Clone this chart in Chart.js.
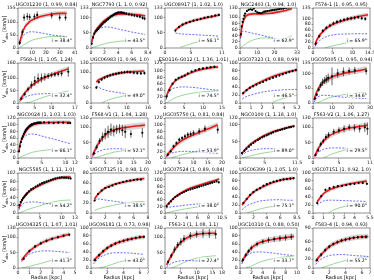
<!DOCTYPE html>
<html><head><meta charset="utf-8">
<script src="https://cdn.jsdelivr.net/npm/chart.js@4"></script>
<style>
body{margin:0;background:#fff;width:374px;height:280px;overflow:hidden;position:relative;font-family:"DejaVu Sans",sans-serif}
canvas{position:absolute}
.yl{position:absolute;font-size:5px;white-space:nowrap;transform-origin:0 0;transform:rotate(-90deg)}
.xl{position:absolute;font-size:5px;white-space:nowrap;transform:translateX(-50%)}
</style></head><body>
<script>
// ---------- DATA ----------
const P1_title="UGC01230 (1, 0.99, 0.84)", P1_incl="i = 38.4°", P1_xAxis=[0,41,10], P1_yAxis=[0,155,50];
const P1_r=[1.2,3.1,4.4,6.7,8.4,11.8,13.8,24.2,30.0,34.2];
const P1_v=[20,62,118,122,120,122,128,126,118,118];
const P1_e=[8,12,14,14,12,12,14,12,12,12];
const P1_mr=[1,3,5,8,10,15,20,25,30,35];
const P1_fit=[18,55,82,100,108,120,127,132,134,134];
const P1_bar=[12,40,55,62,63,60,55,50,47,44];
const P1_dm=[2,8,15,25,30,37,42,45,44,42];

const P2_title="NGC7793 (1, 1.0, 0.92)", P2_incl="i = 43.5°", P2_xAxis=[0,8.4,2], P2_yAxis=[0,133,50];
const P2_r=[0.1,0.3,0.5,0.7,0.9,1.1,1.3,1.5,1.7,1.9,2.1,2.3,2.5,2.7,2.9,3.1,3.3,3.5,3.7,3.9,4.1,4.3,4.5,4.7,4.9,5.2,5.6,6.0,6.4,6.8,7.2,7.6,7.9];
const P2_v=[15,35,48,55,60,65,70,75,80,85,88,92,96,100,104,107,110,113,115,117,118,118,118,117,116,114,112,110,108,106,104,100,98];
const P2_e=[5,5,5,5,5,5,5,5,5,5,5,5,5,5,5,5,5,5,5,5,5,5,5,5,5,5,5,5,5,5,5,6,6];
const P2_mr=[0.1,0.5,1,2,3,4,5,6,7,8];
const P2_fit=[20,50,68,92,106,112,113,112,110,107];
const P2_bar=[10,45,60,70,68,63,58,53,49,45];
const P2_dm=[0,3,7,14,19,22,24,25,26,27];

const P3_title="UGC08917 (1, 1.02, 1.0)", P3_incl="i = 56.1°", P3_xAxis=[0,11,5], P3_yAxis=[0,133,50];
const P3_r=[2,2.7,3.4,4.1,4.8,5.5,6.2,6.9,7.6,8.3,9,9.7,10.4];
const P3_v=[58,70,78,83,87,91,94,97,100,103,105,108,110];
const P3_e=[4,4,4,4,4,4,4,4,4,4,4,4,4];
const P3_mr=[2,3,4,5,6,7,8,9,10,10.5];
const P3_fit=[60,73,82,88,93,97,101,104,108,110];
const P3_bar=[50,47,46,45,44,43,42,41,40,40];
const P3_dm=[null,3,8,14,19,23,27,30,33,35];

const P4_title="NGC2403 (1, 0.94, 1.0)", P4_incl="i = 62.9°", P4_xAxis=[0,33,10], P4_yAxis=[0,130,20];
const P4_r=[0.5,1,1.5,2,2.5,3,4,5,6,7,8,9,10,11,12,13,14,15,16,17,18,19,20,21,22,23,24,25,26,27,28,29,30];
const P4_v=[45,70,85,95,105,112,120,124,126,124,128,120,116,114,113,115,118,119,120,121,122,123,124,125,126,127,128,128,130,131,132,133,134];
const P4_e=[3,3,3,3,3,3,3,3,3,3,3,3,3,3,3,3,3,3,3,3,3,3,3,3,3,3,3,3,3,3,3,3,3];
const P4_mr=[0.3,1,2,3,4,6,8,10,12,15,18,20,25,30];
const P4_fit=[35,65,88,100,106,110,111,111,111,112,113,115,120,128];
const P4_bar=[30,50,55,54,52,50,47,45,42,38,34,31,26,22];
const P4_dm=[0,3,8,12,16,22,27,30,32,33,32,31,29,40];

const P5_title="F574-1 (1, 0.95, 0.95)", P5_incl="i = 65.9°", P5_xAxis=[0,14.5,5], P5_yAxis=[0,135,20];
const P5_r=[0.7,1.6,2.5,3.4,4.3,5.2,6.1,7,7.9,8.8,9.7,10.6,11.5,12.4,13.3];
const P5_v=[15,40,58,68,76,83,88,92,95,98,100,102,104,100,98];
const P5_e=[6,6,6,6,6,6,6,6,6,6,6,6,6,6,6];
const P5_mr=[0.5,1,2,3,4,6,8,10,12,14];
const P5_fit=[10,28,48,62,72,85,94,101,107,112];
const P5_bar=[5,15,28,36,41,46,47,48,48,48];
const P5_dm=[null,null,null,0,4,10,16,21,25,28];

const P6_title="F568-1 (1, 1.05, 1.24)", P6_incl="i = 32.4°", P6_xAxis=[0,17,5], P6_yAxis=[0,160,50];
const P6_r=[1,2,3,4,5,6,7,8,9,10,11,12,13,15];
const P6_v=[18,35,55,72,88,98,100,104,108,112,114,116,118,125];
const P6_e=[6,8,10,15,20,20,18,15,12,10,10,10,12,20];
const P6_mr=[0.5,1,2,4,6,8,10,12,14,15];
const P6_fit=[10,20,40,68,88,102,113,123,132,136];
const P6_bar=[5,12,22,32,36,37,38,38,37,37];
const P6_dm=[null,null,0,5,15,25,33,40,45,48];

const P7_title="UGC06983 (1, 0.96, 1.0)", P7_incl="i = 49.0°", P7_xAxis=[0,16,5], P7_yAxis=[0,130,50];
const P7_r=[1.5,2.2,3,3.8,4.6,5.4,6.2,7,7.8,8.6,9.4,10.2,11,12,13,14,15];
const P7_v=[50,68,76,82,86,90,93,95,97,99,100,101,100,98,97,96,97];
const P7_e=[5,5,5,5,5,5,5,5,5,5,5,5,5,5,5,5,5];
const P7_mr=[1.5,2,3,4,5,6,8,10,12,15];
const P7_fit=[68,74,80,85,89,92,97,100,102,104];
const P7_bar=[55,52,46,42,39,37,33,30,28,27];
const P7_dm=[null,null,0,5,10,14,20,25,28,31];

const P8_title="ESO116-G012 (1, 1.36, 1.01)", P8_incl="i = 74.5°", P8_xAxis=[0,15,5], P8_yAxis=[0,125,20];
const P8_r=[0.4,1.2,2,2.8,3.6,4.4,5.2,6,7,8,9,10,11,12,13];
const P8_v=[20,40,60,72,78,82,86,92,98,102,106,108,110,112,113];
const P8_e=[4,4,4,4,4,4,4,4,4,4,4,4,4,4,4];
const P8_mr=[0.3,1,2,3,4,6,8,10,12,14];
const P8_fit=[18,40,60,72,79,90,100,106,110,113];
const P8_bar=[10,35,45,48,50,50,48,45,42,40];
const P8_dm=[0,5,12,18,22,28,32,35,37,38];

const P9_title="UGC07323 (1, 0.88, 0.99)", P9_incl="i = 46.5°", P9_xAxis=[0,5.2,1], P9_yAxis=[0,100,20];
const P9_r=[0.3,0.6,0.9,1.2,1.5,1.8,2.1,2.4,2.7,3,3.3,3.6,3.9,4.2,4.5,4.8,5.1];
const P9_v=[25,32,38,42,46,50,53,57,60,63,66,69,72,75,78,80,82];
const P9_e=[3,3,3,3,3,3,3,3,3,3,3,3,3,3,3,3,3];
const P9_mr=[0.2,0.5,1,2,3,4,5,5.2];
const P9_fit=[22,30,40,54,66,75,82,84];
const P9_bar=[10,15,20,27,31,33,34,34];
const P9_dm=[null,null,null,null,2,12,18,20];

const P10_title="UGC05005 (1, 0.95, 0.94)", P10_incl="i = 34.6°", P10_xAxis=[0,30,10], P10_yAxis=[0,135,50];
const P10_r=[1,2,3,4,5,6,7,8,10,13,16,19,22,28];
const P10_v=[15,28,45,60,70,76,80,85,90,100,105,108,110,108];
const P10_e=[5,6,8,10,12,12,14,15,30,15,15,12,12,12];
const P10_mr=[0.5,1,2,4,6,10,15,20,25,28];
const P10_fit=[10,20,38,60,72,88,98,105,110,115];
const P10_bar=[3,8,18,25,26,24,20,18,16,15];
const P10_dm=[null,null,0,5,12,20,27,31,34,35];

const P11_title="NGC0024 (1, 1.03, 1.03)", P11_incl="i = 66.1°", P11_xAxis=[0,12,5], P11_yAxis=[0,120,20];
const P11_r=[0.2,0.4,0.6,0.8,1,1.2,1.4,1.6,1.8,2,2.2,2.4,2.6,2.8,3,3.3,3.6,3.9,4.2,4.5,4.8,5.5,6.5,7.5,8.5,9.5,10.5,11];
const P11_v=[20,35,48,58,65,72,78,83,87,90,93,96,98,100,101,103,104,105,106,106,106,107,106,105,106,106,105,105];
const P11_e=[4,4,4,4,4,4,4,4,4,4,4,4,4,4,4,4,4,4,4,4,4,4,4,4,4,4,4,4];
const P11_mr=[0.2,0.5,1,2,3,4,5,6,8,10,11];
const P11_fit=[20,45,62,86,98,103,105,106,107,107,107];
const P11_bar=[20,45,58,70,72,70,66,62,55,47,43];
const P11_dm=[0,3,6,12,17,20,22,24,26,26,25];

const P12_title="F568-V1 (1, 1.04, 1.28)", P12_incl="i = 52.1°", P12_xAxis=[0,20,5], P12_yAxis=[0,130,50];
const P12_r=[1,2,3,4,5,6,7,8,9,10,11,12,14,18];
const P12_v=[15,35,55,68,78,85,92,88,93,95,90,85,78,82];
const P12_e=[5,8,10,15,18,20,20,18,15,15,18,20,12,15];
const P12_mr=[0.5,1,2,4,6,8,10,12,15,18,19];
const P12_fit=[8,18,38,65,82,91,96,99,103,106,107];
const P12_bar=[3,10,18,26,29,30,30,29,28,27,26];
const P12_dm=[null,0,2,8,14,19,22,25,28,30,30];

const P13_title="UGC05750 (1, 0.81, 0.84)", P13_incl="i = 53.9°", P13_xAxis=[0,20,5], P13_yAxis=[0,120,20];
const P13_r=[1,2,3,4,5,6,7,8,9,10,12,14,18.5];
const P13_v=[10,20,35,45,55,60,65,70,72,75,80,88,85];
const P13_e=[3,4,5,5,6,6,7,8,8,8,10,10,12];
const P13_mr=[0.5,1,2,4,6,8,10,12,15,18.5];
const P13_fit=[5,12,22,40,53,62,70,77,87,100];
const P13_bar=[3,8,14,18,20,20,19,18,16,14];
const P13_dm=[null,null,0,5,10,14,18,21,25,30];

const P14_title="NGC0100 (1, 1.18, 1.0)", P14_incl="i = 89.0°", P14_xAxis=[0,11.5,5], P14_yAxis=[0,120,50];
const P14_r=[0.4,0.9,1.3,1.8,2.2,2.7,3.1,3.6,4,4.5,4.9,5.4,5.8,6.3,6.7,7.2,7.6,8.1,8.5,9,9.4,9.9,10.3,10.8];
const P14_v=[15,22,28,34,40,45,50,54,58,62,65,68,71,74,77,80,82,84,86,88,90,92,93,95];
const P14_e=[3,3,3,3,3,3,3,3,3,3,3,3,3,3,3,3,3,3,3,3,3,3,3,3];
const P14_mr=[0.3,1,2,4,6,8,10,11];
const P14_fit=[12,25,40,60,75,85,93,96];
const P14_bar=[8,15,22,27,28,27,25,24];
const P14_dm=[0,2,6,13,18,21,24,25];

const P15_title="F563-V2 (1, 1.06, 1.27)", P15_incl="i = 29.5°", P15_xAxis=[0,11,5], P15_yAxis=[0,130,50];
const P15_r=[0.5,1,1.5,2,2.5,3,4,5,6,7,8,9,10,10.5];
const P15_v=[10,25,45,55,68,75,85,90,95,100,98,95,100,95];
const P15_e=[4,6,8,8,10,10,10,10,12,10,12,12,15,20];
const P15_mr=[0.3,1,2,3,4,6,8,10,10.5];
const P15_fit=[5,30,55,70,80,93,100,105,107];
const P15_bar=[5,18,28,32,33,32,30,28,28];
const P15_dm=[null,null,0,8,15,25,30,32,33];

const P16_title="NGC5585 (1, 1.11, 1.0)", P16_incl="i = 54.2°", P16_xAxis=[0,13,5], P16_yAxis=[0,102,20];
const P16_r=[0.3,0.6,0.9,1.2,1.5,1.8,2.1,2.5,3,3.5,4,4.5,5,5.5,6,6.5,7,7.5,8,8.5,9,9.5,10,10.5,11,11.5,12];
const P16_v=[20,28,33,38,42,46,50,55,60,63,67,70,73,76,78,80,82,84,86,88,89,90,91,90,90,89,88];
const P16_e=[3,3,3,3,3,3,3,3,3,3,3,3,3,3,3,3,3,3,3,3,3,3,3,3,3,3,3];
const P16_mr=[0.2,1,2,4,6,8,10,12];
const P16_fit=[12,35,50,65,76,85,90,92];
const P16_bar=[8,22,27,28,25,22,18,16];
const P16_dm=[0,3,8,15,22,28,32,33];

const P17_title="UGC07125 (1, 0.98, 1.0)", P17_incl="i = 38.5°", P17_xAxis=[0,8,2], P17_yAxis=[0,80,20];
const P17_r=[0.5,1,1.5,2,2.5,3,3.5,4,4.5,5,5.5,6,6.5,7];
const P17_v=[25,38,45,50,52,55,58,60,62,64,65,66,67,67];
const P17_e=[2,2,2,2,2,2,2,2,2,2,2,2,2,2];
const P17_mr=[0.5,1,2,3,4,5,6,7,7.5];
const P17_fit=[28,38,50,56,60,63,66,68,69];
const P17_bar=[25,28,26,24,22,20,18,16,15];
const P17_dm=[5,8,12,15,18,20,22,23,23];

const P18_title="UGC07524 (1, 0.89, 0.84)", P18_incl="i = 38.0°", P18_xAxis=[0,10.5,2], P18_yAxis=[0,120,20];
const P18_r=[0.3,0.7,1.1,1.5,1.9,2.3,2.7,3.1,3.5,3.9,4.3,4.7,5.1,5.5,5.9,6.3,6.7,7.1,7.5,7.9,8.3,8.7,9.1,9.5,9.9];
const P18_v=[20,28,35,42,48,52,56,60,63,66,69,71,73,75,77,79,81,83,85,87,89,91,93,95,92];
const P18_e=[3,3,3,3,3,3,3,3,3,3,3,3,3,3,3,3,3,3,3,3,3,3,3,3,3];
const P18_mr=[0.2,1,2,4,6,8,10];
const P18_fit=[20,35,50,70,82,92,102];
const P18_bar=[15,18,20,24,27,29,30];
const P18_dm=[0,3,7,13,18,23,28];

const P19_title="UGC06399 (1, 1.05, 1.0)", P19_incl="i = 75.1°", P19_xAxis=[0,8.5,2], P19_yAxis=[0,100,20];
const P19_r=[0.5,1,1.5,2,2.5,3,3.5,4,4.5,5,5.5,6,6.5,7,7.5,8];
const P19_v=[25,35,45,52,58,62,68,72,75,78,80,82,84,85,86,87];
const P19_e=[3,3,3,3,3,3,3,3,3,3,3,3,3,3,3,3];
const P19_mr=[0.3,1,2,3,4,5,6,7,8];
const P19_fit=[20,35,52,62,70,77,82,85,87];
const P19_bar=[8,18,25,30,32,33,33,32,32];
const P19_dm=[null,0,5,10,14,17,20,21,22];

const P20_title="UGC07151 (1, 0.92, 1.0)", P20_incl="i = 90.0°", P20_xAxis=[0,5.5,1], P20_yAxis=[0,100,20];
const P20_r=[0.4,0.8,1.2,1.6,2,2.4,2.8,3.2,3.6,4,4.4,4.8,5.2];
const P20_v=[25,42,58,62,65,67,68,70,72,73,75,75,73];
const P20_e=[3,3,3,3,3,3,3,3,3,3,3,3,3];
const P20_mr=[0.4,1,1.5,2,3,4,5,5.2];
const P20_fit=[28,48,57,62,70,75,79,80];
const P20_bar=[20,30,32,32,31,30,29,28];
const P20_dm=[null,null,0,8,16,21,25,26];

const P21_title="UGC04325 (1, 1.07, 1.01)", P21_incl="i = 41.3°", P21_xAxis=[0,5,1], P21_yAxis=[0,130,50];
const P21_r=[0.5,1,1.5,2,2.5,3,3.5,4,4.5];
const P21_v=[30,55,70,80,88,95,100,105,108];
const P21_e=[5,5,5,5,5,5,5,5,5];
const P21_mr=[0.3,1,2,3,4,4.5];
const P21_fit=[25,55,80,95,105,110];
const P21_bar=[20,45,55,55,52,50];
const P21_dm=[0,5,15,25,32,35];

const P22_title="UGC06181 (1, 0.73, 0.98)", P22_incl="i = 43.0°", P22_xAxis=[0,7,2], P22_yAxis=[0,100,20];
const P22_r=[0.5,1,1.5,2,2.5,3,3.5,4,4.5,5,5.5,6,6.5];
const P22_v=[20,32,42,50,56,61,65,68,71,73,75,77,78];
const P22_e=[4,4,4,4,4,4,4,4,4,4,4,4,4];
const P22_mr=[0.3,1,2,3,4,5,6,6.5];
const P22_fit=[18,32,50,61,68,73,77,78];
const P22_bar=[10,25,35,38,38,37,35,34];
const P22_dm=[null,0,5,12,18,22,25,27];

const P23_title="F563-1 (1, 1.08, 1.1)", P23_incl="i = 27.4°", P23_xAxis=[0,18,5], P23_yAxis=[0,130,50];
const P23_r=[1,2,3,4,5,6,8,10,12,14,16];
const P23_v=[20,40,60,75,85,95,105,110,112,112,110];
const P23_e=[5,8,10,10,12,12,12,12,15,15,15];
const P23_mr=[0.5,1,2,4,6,8,10,12,14,16];
const P23_fit=[10,20,40,72,92,103,109,112,113,113];
const P23_bar=[3,8,15,22,24,24,23,22,21,20];
const P23_dm=[null,null,0,8,18,26,32,36,38,40];

const P24_title="UGC10310 (1, 0.88, 0.50)", P24_incl="i = 33.7°", P24_xAxis=[0,10,2], P24_yAxis=[0,100,20];
const P24_r=[0.5,1,1.5,2,3,4,5,6,7,8,9];
const P24_v=[20,32,42,50,60,66,70,72,74,76,78];
const P24_e=[5,5,5,6,6,6,7,7,8,8,8];
const P24_mr=[0.3,1,2,3,4,6,8,9.5];
const P24_fit=[15,32,50,60,66,72,76,79];
const P24_bar=[10,28,38,40,40,37,33,31];
const P24_dm=[null,0,5,12,17,24,28,30];

const P25_title="F583-4 (1, 0.94, 0.93)", P25_incl="i = 55.2°", P25_xAxis=[0,7,2], P25_yAxis=[0,90,20];
const P25_r=[0.5,1,1.5,2,2.5,3,3.5,4,4.5,5,5.5,6,6.5];
const P25_v=[18,30,40,48,54,58,62,64,66,68,69,70,70];
const P25_e=[4,4,4,4,4,4,4,4,4,4,4,4,4];
const P25_mr=[0.3,1,2,3,4,5,6,6.8];
const P25_fit=[15,30,48,58,64,68,70,71];
const P25_bar=[8,20,28,30,30,28,27,26];
const P25_dm=[null,0,6,12,17,21,24,25];

const BAND_HALF=[9,7,6,6,8, 10,6,6,5,10, 6,10,8,5,9, 5,4,5,5,5, 7,6,9,7,6];

// ---------- LAYOUT ----------
const COL_L=[18,90.5,164.5,239.5,312.5], PW=57;
const ROW_T=[8,63,118,173,228], PH=40;
const AXW=16, TOPH=7, AXH=8, PADR=6;

Chart.defaults.font.family="'DejaVu Sans', sans-serif";
Chart.defaults.font.size=4.6;
Chart.defaults.color="#111";

const panels=[];
for(let k=1;k<=25;k++){
  const g=n=>window.eval("P"+k+"_"+n);
  panels.push({title:g("title"),incl:g("incl"),xa:g("xAxis"),ya:g("yAxis"),r:g("r"),v:g("v"),e:g("e"),mr:g("mr"),fit:g("fit"),bar:g("bar"),dm:g("dm"),bw:BAND_HALF[k-1]});
}

const framePlugin={id:"frame",
  afterDraw(ch,args,o){
    const a=ch.chartArea,c=ch.ctx;
    c.save();c.strokeStyle="#444";c.lineWidth=0.6;c.strokeRect(a.left,a.top,a.right-a.left,a.bottom-a.top);
    c.fillStyle="#000";c.textAlign="center";c.textBaseline="bottom";
    c.font="4.8px 'DejaVu Sans'";
    c.fillText(o.title,(a.left+a.right)/2,a.top-1.3);
    c.textAlign="right";c.textBaseline="alphabetic";c.font="4.6px 'DejaVu Sans'";
    c.fillStyle="rgba(255,255,255,0.85)";
    const w=c.measureText(o.incl).width;
    c.fillRect(a.right-3-w-0.5,a.bottom-10.5,w+1,5.2);
    c.fillStyle="#000";
    c.fillText(o.incl,a.right-3,a.bottom-6.2);
    c.restore();
  }};

panels.forEach((p,i)=>{
  const col=i%5,row=Math.floor(i/5);
  const cw=AXW+PW+PADR,ch=TOPH+PH+AXH;
  const cv=document.createElement("canvas");
  cv.width=cw;cv.height=ch;
  cv.style.left=(COL_L[col]-AXW)+"px";cv.style.top=(ROW_T[row]-TOPH)+"px";
  cv.style.width=cw+"px";cv.style.height=ch+"px";
  document.body.appendChild(cv);
  const pts=p.r.map((x,j)=>({x,y:p.v[j]}));
  const err=[];p.r.forEach((x,j)=>{err.push({x,y:p.v[j]-p.e[j]},{x,y:p.v[j]+p.e[j]},{x,y:null});});
  const curve=arr=>p.mr.map((x,j)=>({x,y:arr[j]}));
  const lo=p.mr.map((x,j)=>({x,y:p.fit[j]-p.bw}));
  const hi=p.mr.map((x,j)=>({x,y:p.fit[j]+p.bw}));
  new Chart(cv,{
    type:"line",
    data:{datasets:[
      {data:pts,showLine:false,pointRadius:1.1,pointBackgroundColor:"#000",pointBorderWidth:0,order:0},
      {data:err,borderColor:"#000",borderWidth:0.6,pointRadius:0,spanGaps:false,order:1},
      {data:curve(p.fit),borderColor:"rgb(235,25,25)",borderWidth:1.6,pointRadius:0,tension:0.35,order:2},
      {data:curve(p.bar),borderColor:"rgb(70,70,255)",borderWidth:0.8,borderDash:[2,1.4],pointRadius:0,tension:0.35,spanGaps:false,order:3},
      {data:curve(p.dm),borderColor:"rgb(130,205,130)",borderWidth:0.8,pointRadius:0,tension:0.35,spanGaps:false,order:4},
      {data:lo,borderWidth:0,pointRadius:0,fill:false,tension:0.35,order:6},
      {data:hi,borderWidth:0,pointRadius:0,fill:"-1",backgroundColor:"rgba(0,0,0,0.16)",tension:0.35,order:5}
    ]},
    options:{
      responsive:false,animation:false,devicePixelRatio:1,
      layout:{padding:{top:TOPH,right:PADR,left:0,bottom:0}},
      plugins:{legend:{display:false},tooltip:{enabled:false},title:{display:false},frame:{title:p.title,incl:p.incl}},
      scales:{
        x:{type:"linear",min:p.xa[0],max:p.xa[1],
           ticks:{stepSize:p.xa[2],padding:0.5,maxRotation:0,autoSkip:false,font:{size:4.6},color:"#111"},
           grid:{display:true,drawOnChartArea:false,drawTicks:true,tickLength:1.5,color:"#444",lineWidth:0.5},
           border:{display:false},afterFit:s=>{s.height=AXH;}},
        y:{type:"linear",min:p.ya[0],max:p.ya[1],
           ticks:{stepSize:p.ya[2],padding:0.8,autoSkip:false,font:{size:4.6},color:"#111"},
           grid:{display:true,drawOnChartArea:false,drawTicks:true,tickLength:1.5,color:"#444",lineWidth:0.5},
           border:{display:false},afterFit:s=>{s.width=AXW;}}
      }
    },
    plugins:[framePlugin]
  });
});

// shared axis labels
ROW_T.forEach(t=>{
  const d=document.createElement("div");d.className="yl";
  d.innerHTML="V<sub style='font-size:3.6px'>obs</sub> [km/s]";
  d.style.left="1px";d.style.top=(t+PH/2+15)+"px";
  document.body.appendChild(d);
});
COL_L.forEach(l=>{
  const d=document.createElement("div");d.className="xl";
  d.textContent="Radius [kpc]";
  d.style.left=(l+PW/2)+"px";d.style.top=(ROW_T[4]+PH+6)+"px";
  document.body.appendChild(d);
});
</script>
</body></html>
